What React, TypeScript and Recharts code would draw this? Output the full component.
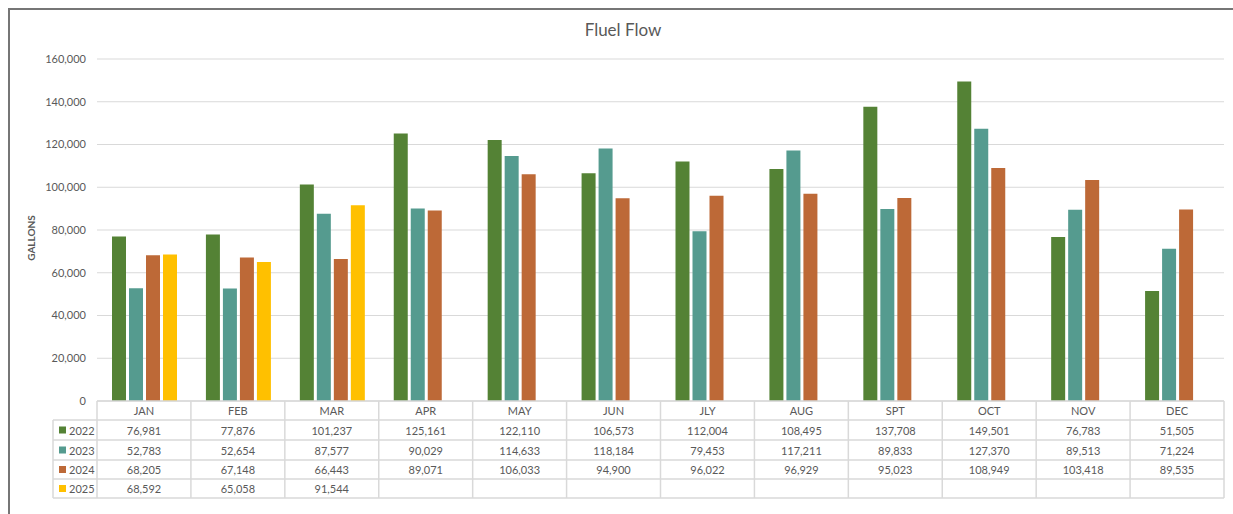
import React from "react";
import { BarChart, Bar, XAxis, YAxis, CartesianGrid } from "recharts";

const months = ["JAN", "FEB", "MAR", "APR", "MAY", "JUN", "JLY", "AUG", "SPT", "OCT", "NOV", "DEC"];
const y2022 = [76981, 77876, 101237, 125161, 122110, 106573, 112004, 108495, 137708, 149501, 76783, 51505];
const y2023 = [52783, 52654, 87577, 90029, 114633, 118184, 79453, 117211, 89833, 127370, 89513, 71224];
const y2024 = [68205, 67148, 66443, 89071, 106033, 94900, 96022, 96929, 95023, 108949, 103418, 89535];
const y2025: (number | null)[] = [68592, 65058, 91544, null, null, null, null, null, null, null, null, null];
const yTicks = [0, 20000, 40000, 60000, 80000, 100000, 120000, 140000, 160000];

const SERIES = [
  { key: "2022", values: y2022, color: "#548235" },
  { key: "2023", values: y2023, color: "#559B8F" },
  { key: "2024", values: y2024, color: "#BD6937" },
  { key: "2025", values: y2025, color: "#FFC000" },
];

const data = months.map((m, i) => {
  const row: Record<string, string | number | null> = { month: m };
  SERIES.forEach((s) => (row[s.key] = s.values[i]));
  return row;
});

// plot area + data table geometry
const W = 1233;
const H = 514;
const PLOT_L = 97;
const PLOT_R = 1224;
const PLOT_T = 59;
const PLOT_B = 401;
const COL_W = (PLOT_R - PLOT_L) / months.length;
const LEG_L = 53;
const ROWS = [401, 420, 440, 460, 479, 498];
const GRID = "#d9d9d9";
const TXT = "#595959";
const FONT = "Lato, 'Open Sans', sans-serif";

const fmt = (v: number | null) => (v == null ? "" : v.toLocaleString("en-US"));

function TableTick(props: any) {
  const { x, payload } = props;
  const index = props.index ?? payload.index;
  const left = x - COL_W / 2;
  const isFirst = index === 0;
  const isLast = index === months.length - 1;
  return (
    <g fontFamily={FONT} fontSize={11} fill={TXT}>
      {isFirst && (
        <g>
          <line x1={PLOT_L} x2={PLOT_R} y1={ROWS[0]} y2={ROWS[0]} stroke={GRID} strokeWidth={1.5} />
          {ROWS.slice(1).map((ry) => (
            <line key={ry} x1={LEG_L} x2={PLOT_R} y1={ry} y2={ry} stroke={GRID} strokeWidth={1.5} />
          ))}
          <line x1={LEG_L} x2={LEG_L} y1={ROWS[1]} y2={ROWS[5]} stroke={GRID} strokeWidth={1.5} />
          {SERIES.map((s, r) => (
            <g key={s.key}>
              <rect x={59} y={(ROWS[r + 1] + ROWS[r + 2]) / 2 - 3.5} width={7} height={7} fill={s.color} />
              <text x={69} y={(ROWS[r + 1] + ROWS[r + 2]) / 2} dominantBaseline="central" textAnchor="start">
                {s.key}
              </text>
            </g>
          ))}
        </g>
      )}
      <line x1={left} x2={left} y1={ROWS[0]} y2={ROWS[5]} stroke={GRID} strokeWidth={1.5} />
      {isLast && (
        <line x1={left + COL_W} x2={left + COL_W} y1={ROWS[0]} y2={ROWS[5]} stroke={GRID} strokeWidth={1.5} />
      )}
      <text x={x} y={(ROWS[0] + ROWS[1]) / 2} dominantBaseline="central" textAnchor="middle">
        {payload.value}
      </text>
      {SERIES.map((s, r) => (
        <text
          key={s.key}
          x={x}
          y={(ROWS[r + 1] + ROWS[r + 2]) / 2}
          dominantBaseline="central"
          textAnchor="middle"
        >
          {fmt(s.values[index])}
        </text>
      ))}
    </g>
  );
}

export default function App() {
  return (
    <div style={{ position: "relative", width: W, height: H, overflow: "hidden", background: "#fff" }}>
      <style>{"html,body{margin:0;overflow:hidden;background:#fff}"}</style>
      <div
        style={{
          position: "absolute",
          left: 8,
          top: 8,
          width: W + 40,
          height: H + 40,
          border: "2px solid #767676",
          boxSizing: "border-box",
        }}
      />
      <div
        style={{
          position: "absolute",
          left: 0,
          top: 19,
          width: W,
          textAlign: "center",
          fontFamily: FONT,
          fontSize: 17,
          color: TXT,
          paddingLeft: 13,
          boxSizing: "border-box",
        }}
      >
        Fluel Flow
      </div>
      <div
        style={{
          position: "absolute",
          left: 31,
          top: 238,
          transform: "translate(-50%, -50%) rotate(-90deg)",
          fontFamily: FONT,
          fontSize: 10,
          fontWeight: 700,
          color: TXT,
          whiteSpace: "nowrap",
        }}
      >
        GALLONS
      </div>
      <div style={{ position: "absolute", left: 0, top: 0 }}>
        <BarChart
          width={W}
          height={H}
          data={data}
          margin={{ top: PLOT_T, right: W - PLOT_R, bottom: 0, left: 0 }}
          barCategoryGap={15}
          barGap={3}
        >
          <CartesianGrid vertical={false} stroke={GRID} strokeWidth={1.2} />
          <YAxis
            width={PLOT_L}
            domain={[0, 160000]}
            ticks={yTicks}
            interval={0}
            axisLine={false}
            tickLine={false}
            tickSize={0}
            tickMargin={11}
            tickFormatter={(v: number) => v.toLocaleString("en-US")}
            tick={{ fill: TXT, fontSize: 11, fontFamily: FONT }}
          />
          <XAxis
            dataKey="month"
            interval={0}
            axisLine={false}
            tickLine={false}
            height={H - PLOT_B}
            tick={<TableTick />}
          />
          {SERIES.map((s) => (
            <Bar key={s.key} dataKey={s.key} fill={s.color} isAnimationActive={false} />
          ))}
        </BarChart>
      </div>
    </div>
  );
}
